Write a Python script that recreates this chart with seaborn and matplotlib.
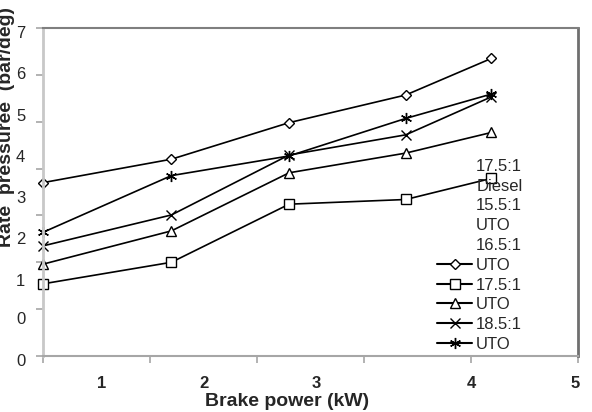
import numpy as np
import matplotlib
matplotlib.use("Agg")
import matplotlib.pyplot as plt
import seaborn as sns
from matplotlib.lines import Line2D

# ------------------------------
# Data
# ------------------------------
brake_power = [0.0, 1.20, 2.30, 3.39, 4.19]

diesel_175 = [3.70, 4.20, 4.98, 5.57, 6.35]
uto_155 = [1.54, 2.00, 3.24, 3.34, 3.79]
uto_165 = [1.96, 2.67, 3.91, 4.33, 4.77]
uto_175 = [2.35, 3.01, 4.29, 4.72, 5.53]
uto_185 = [2.64, 3.85, 4.27, 5.07, 5.59]

series_names = ["17.5:1 Diesel", "15.5:1 UTO", "16.5:1 UTO", "17.5:1 UTO", "18.5:1 UTO"]
legend_lines = ["17.5:1", "Diesel", "15.5:1", "UTO", "16.5:1",
                "UTO", "17.5:1", "UTO", "18.5:1", "UTO"]

# tick labels as printed (they sit off the tick marks in the original)
x_labels = ["1", "2", "3", "4", "5"]
x_label_pos = [0.55, 1.50, 2.55, 4.00, 4.97]
y_labels = ["7", "6", "5", "4", "3", "2", "1", "0", "0"]
y_label_pos = [6.89, 6.01, 5.12, 4.24, 3.37, 2.49, 1.60, 0.77, -0.11]

# ------------------------------
# Figure setup
# ------------------------------
sns.set_style("white")
plt.rcParams['font.family'] = ['Liberation Sans', 'DejaVu Sans']

fig = plt.figure(figsize=(5.92, 4.12), dpi=100)
ax = fig.add_axes([43/592, 1 - 356/412, (578 - 43)/592, (356 - 28)/412])

markers = ["D", "s", "^", "x", (6, 2, 0)]
sizes = [5, 7, 6.5, 7, 8]
all_series = [diesel_175, uto_155, uto_165, uto_175, uto_185]

for vals, name, mk, ms in zip(all_series, series_names, markers, sizes):
    sns.lineplot(x=brake_power, y=vals, ax=ax, color="black", linewidth=1.2,
                 marker=mk, markersize=ms, markerfacecolor="white",
                 markeredgecolor="black", markeredgewidth=1.0,
                 legend=False, clip_on=False, label=name)

ax.set_xlim(0, 5)
ax.set_ylim(0, 7)

# tick marks only, labels drawn separately
ax.set_xticks(range(0, 6))
ax.set_yticks(range(0, 8))
ax.tick_params(axis="both", which="major", length=5, width=1.2, color="#a6a6a6",
               direction="out", labelleft=False, labelbottom=False,
               left=True, bottom=True)

# x labels (bold, off the tick marks)
for pos, lab in zip(x_label_pos, x_labels):
    ax.text(pos, -0.085, lab, transform=ax.get_xaxis_transform(),
            ha="center", va="center", fontsize=12, fontweight="bold", clip_on=False)

# y labels (one sits below the axis range)
for pos, lab in zip(y_label_pos, y_labels):
    ax.text(-0.033, pos, lab, transform=ax.get_yaxis_transform(),
            ha="right", va="center", fontsize=12, clip_on=False)

# spines
ax.spines["left"].set_color("#c8c8c8")
ax.spines["left"].set_linewidth(2.0)
ax.spines["bottom"].set_color("#a6a6a6")
ax.spines["bottom"].set_linewidth(1.5)
ax.spines["top"].set_color("#7f7f7f")
ax.spines["top"].set_linewidth(1.5)
ax.spines["right"].set_color("#6f6f6f")
ax.spines["right"].set_linewidth(2.0)

# axis titles
fig.text(287/592, 1 - 401/412, "Brake power (kW)", ha="center", va="center",
         fontsize=14, fontweight="bold")
fig.text(7/592, 1 - 247/412, "Rate  pressuree  (bar/deg)", ha="center", va="bottom",
         rotation=90, fontsize=14, fontweight="bold")

# ------------------------------
# Legend (garbled Excel legend: texts in 10 rows, markers on the last 5)
# ------------------------------
blank = Line2D([], [], linestyle="none", marker=None)
handles = [blank] * 5 + list(ax.lines[:5])
leg = ax.legend(handles, legend_lines, loc="upper left",
                bbox_to_anchor=(437/592, 1 - 159/412), bbox_transform=fig.transFigure,
                frameon=False, fontsize=12, borderpad=0, borderaxespad=0,
                handlelength=2.1, handletextpad=0.25, labelspacing=0.285)
for h in leg.legend_handles:
    h.set_linewidth(1.5)

fig.savefig("out.png", dpi=100)
